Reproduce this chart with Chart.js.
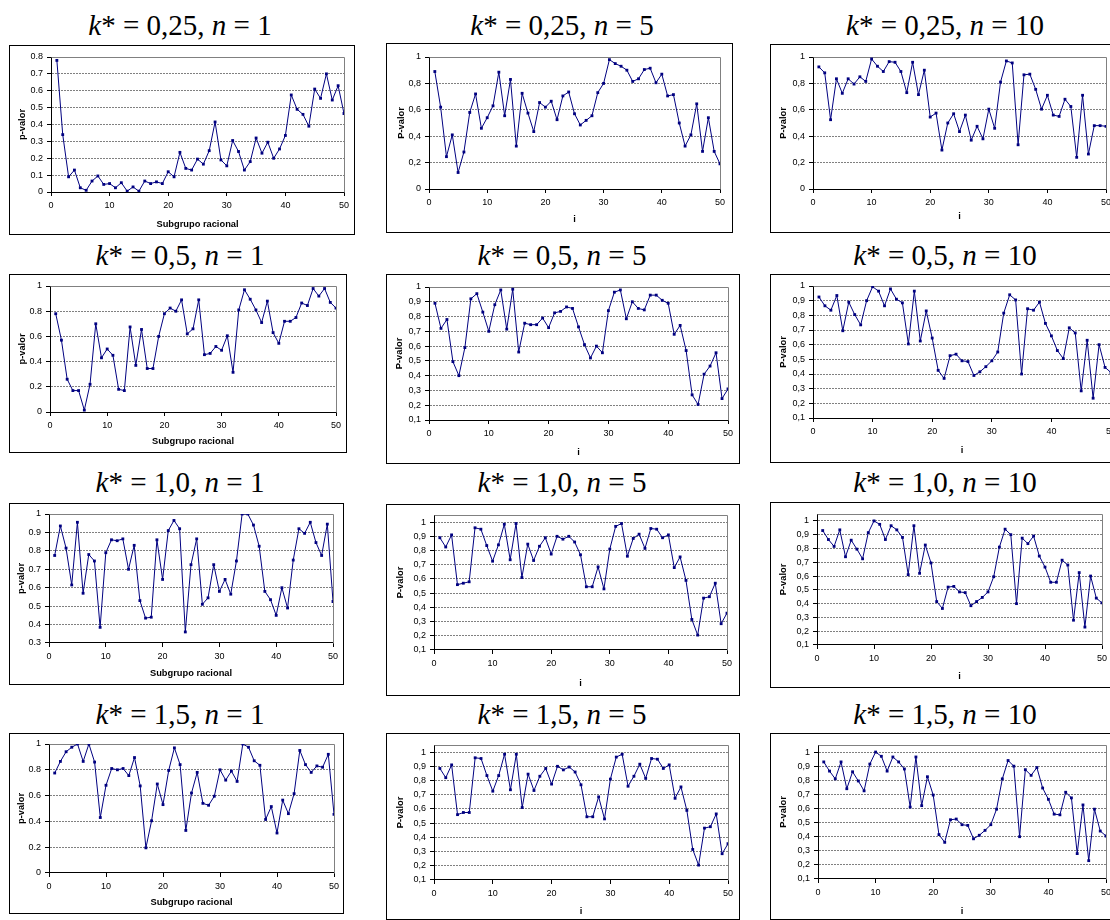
<!DOCTYPE html>
<html>
<head>
<meta charset="utf-8">
<script src="https://cdn.jsdelivr.net/npm/chart.js@4.4.0/dist/chart.umd.min.js"></script>
<style>
  html, body { margin: 0; padding: 0; background: #fff; overflow: hidden; }
  body { width: 1110px; height: 920px; position: relative; }
  .titulo {
    position: absolute; width: 300px; text-align: center; white-space: nowrap;
    font-family: 'Liberation Serif', 'DejaVu Serif', 'Times New Roman', serif;
    font-size: 29px; line-height: 29px; color: #000;
  }
  canvas { position: absolute; }
</style>
</head>
<body>
<script>
// subgrupos racionales (eje x)
const subgrupos = [1, 2, 3, 4, 5, 6, 7, 8, 9, 10, 11, 12, 13, 14, 15, 16, 17, 18, 19, 20,
  21, 22, 23, 24, 25, 26, 27, 28, 29, 30, 31, 32, 33, 34, 35, 36, 37, 38, 39, 40,
  41, 42, 43, 44, 45, 46, 47, 48, 49, 50];

const ticksX = [0, 10, 20, 30, 40, 50];
const ticks0a08 = [0, 0.1, 0.2, 0.3, 0.4, 0.5, 0.6, 0.7, 0.8];
const ticks0a1 = [0, 0.1, 0.2, 0.3, 0.4, 0.5, 0.6, 0.7, 0.8, 0.9, 1];
const ticks01a1 = [0.1, 0.2, 0.3, 0.4, 0.5, 0.6, 0.7, 0.8, 0.9, 1];
const ticks03a1 = [0.3, 0.4, 0.5, 0.6, 0.7, 0.8, 0.9, 1];

// p-valores por k* y n
const pK025n1 = [0.78, 0.34, 0.09, 0.13, 0.025, 0.01, 0.065, 0.095, 0.045, 0.05,
  0.025, 0.055, 0.005, 0.03, 0.005, 0.065, 0.05, 0.06, 0.05, 0.12,
  0.09, 0.235, 0.14, 0.13, 0.195, 0.165, 0.245, 0.415, 0.19, 0.155,
  0.305, 0.24, 0.13, 0.18, 0.32, 0.23, 0.295, 0.2, 0.255, 0.335,
  0.575, 0.49, 0.46, 0.39, 0.61, 0.555, 0.7, 0.545, 0.63, 0.465];
const pK025n5 = [0.89, 0.62, 0.245, 0.41, 0.125, 0.28, 0.58, 0.72, 0.46, 0.54,
  0.63, 0.885, 0.555, 0.83, 0.325, 0.725, 0.575, 0.435, 0.655, 0.62,
  0.665, 0.525, 0.705, 0.735, 0.57, 0.485, 0.52, 0.555, 0.73, 0.8,
  0.98, 0.95, 0.93, 0.9, 0.815, 0.835, 0.905, 0.915, 0.805, 0.87,
  0.705, 0.715, 0.5, 0.325, 0.41, 0.645, 0.285, 0.54, 0.285, 0.19];
const pK025n10 = [0.925, 0.88, 0.525, 0.835, 0.725, 0.835, 0.795, 0.85, 0.815, 0.985,
  0.93, 0.89, 0.965, 0.96, 0.89, 0.73, 0.96, 0.715, 0.9, 0.545,
  0.575, 0.295, 0.5, 0.57, 0.435, 0.56, 0.37, 0.475, 0.38, 0.605,
  0.46, 0.81, 0.97, 0.955, 0.335, 0.865, 0.87, 0.755, 0.605, 0.71,
  0.56, 0.55, 0.68, 0.625, 0.24, 0.71, 0.265, 0.48, 0.48, 0.475];
const pK05n1 = [0.78, 0.57, 0.26, 0.17, 0.17, 0.015, 0.22, 0.7, 0.43, 0.5,
  0.45, 0.18, 0.17, 0.675, 0.37, 0.655, 0.345, 0.345, 0.6, 0.78,
  0.825, 0.8, 0.89, 0.62, 0.66, 0.89, 0.455, 0.465, 0.52, 0.49,
  0.605, 0.315, 0.81, 0.97, 0.895, 0.81, 0.71, 0.88, 0.63, 0.545,
  0.72, 0.72, 0.75, 0.865, 0.845, 0.98, 0.92, 0.98, 0.87, 0.825];
const pK05n5 = [0.89, 0.72, 0.78, 0.495, 0.4, 0.59, 0.92, 0.955, 0.83, 0.7,
  0.88, 0.98, 0.715, 0.985, 0.56, 0.755, 0.745, 0.745, 0.79, 0.725,
  0.825, 0.835, 0.865, 0.855, 0.73, 0.61, 0.52, 0.6, 0.555, 0.84,
  0.965, 0.98, 0.785, 0.9, 0.855, 0.845, 0.945, 0.945, 0.91, 0.89,
  0.68, 0.74, 0.57, 0.27, 0.205, 0.41, 0.465, 0.555, 0.245, 0.31];
const pK05n10 = [0.925, 0.865, 0.835, 0.935, 0.695, 0.89, 0.805, 0.735, 0.9, 0.995,
  0.965, 0.865, 0.98, 0.91, 0.885, 0.605, 0.965, 0.625, 0.83, 0.645,
  0.425, 0.37, 0.525, 0.535, 0.49, 0.485, 0.39, 0.415, 0.45, 0.49,
  0.55, 0.815, 0.94, 0.905, 0.4, 0.845, 0.835, 0.89, 0.745, 0.66,
  0.56, 0.505, 0.715, 0.68, 0.285, 0.63, 0.235, 0.6, 0.445, 0.41];
const pK10n1 = [0.775, 0.935, 0.815, 0.615, 0.955, 0.57, 0.78, 0.745, 0.385, 0.79,
  0.86, 0.855, 0.865, 0.7, 0.83, 0.53, 0.435, 0.44, 0.86, 0.645,
  0.91, 0.965, 0.92, 0.36, 0.725, 0.865, 0.51, 0.545, 0.725, 0.58,
  0.645, 0.565, 0.745, 1.0, 1.0, 0.94, 0.825, 0.58, 0.535, 0.45,
  0.6, 0.49, 0.75, 0.92, 0.895, 0.955, 0.845, 0.775, 0.945, 0.525];
const pK10n5 = [0.89, 0.825, 0.91, 0.56, 0.57, 0.58, 0.96, 0.95, 0.835, 0.725,
  0.84, 0.985, 0.735, 0.99, 0.61, 0.845, 0.73, 0.83, 0.89, 0.775,
  0.9, 0.88, 0.9, 0.86, 0.77, 0.545, 0.545, 0.685, 0.53, 0.81,
  0.97, 0.99, 0.76, 0.885, 0.915, 0.815, 0.955, 0.95, 0.89, 0.91,
  0.68, 0.755, 0.59, 0.315, 0.205, 0.465, 0.475, 0.57, 0.285, 0.36];
const pK10n10 = [0.93, 0.865, 0.815, 0.935, 0.74, 0.86, 0.795, 0.725, 0.915, 1.0,
  0.975, 0.865, 0.965, 0.935, 0.88, 0.61, 0.965, 0.62, 0.825, 0.695,
  0.415, 0.365, 0.52, 0.525, 0.485, 0.48, 0.385, 0.415, 0.445, 0.485,
  0.595, 0.81, 0.94, 0.9, 0.4, 0.875, 0.835, 0.89, 0.745, 0.665,
  0.555, 0.555, 0.715, 0.68, 0.28, 0.625, 0.23, 0.6, 0.44, 0.405];
const pK15n1 = [0.775, 0.865, 0.94, 0.975, 1.0, 0.865, 1.0, 0.86, 0.43, 0.68,
  0.81, 0.8, 0.81, 0.755, 0.895, 0.675, 0.195, 0.405, 0.69, 0.53,
  0.795, 0.97, 0.84, 0.33, 0.62, 0.78, 0.54, 0.525, 0.595, 0.8,
  0.72, 0.79, 0.71, 1.0, 0.975, 0.87, 0.835, 0.415, 0.515, 0.31,
  0.565, 0.46, 0.615, 0.95, 0.84, 0.78, 0.83, 0.82, 0.92, 0.455];
const pK15n5 = [0.885, 0.82, 0.91, 0.56, 0.575, 0.575, 0.96, 0.955, 0.835, 0.725,
  0.835, 0.985, 0.735, 0.985, 0.61, 0.845, 0.73, 0.83, 0.885, 0.775,
  0.9, 0.875, 0.895, 0.86, 0.77, 0.545, 0.545, 0.685, 0.53, 0.81,
  0.965, 0.985, 0.76, 0.83, 0.915, 0.815, 0.955, 0.95, 0.885, 0.91,
  0.675, 0.755, 0.59, 0.315, 0.205, 0.465, 0.475, 0.565, 0.285, 0.355];
const pK15n10 = [0.93, 0.865, 0.81, 0.93, 0.74, 0.86, 0.795, 0.725, 0.915, 1.0,
  0.97, 0.865, 0.965, 0.93, 0.88, 0.61, 0.965, 0.62, 0.825, 0.695,
  0.415, 0.36, 0.52, 0.525, 0.485, 0.48, 0.385, 0.41, 0.445, 0.485,
  0.595, 0.81, 0.94, 0.9, 0.4, 0.875, 0.835, 0.89, 0.745, 0.665,
  0.56, 0.555, 0.715, 0.675, 0.28, 0.625, 0.23, 0.595, 0.44, 0.405];

// columnas: n = 1 (subgrupo racional), n = 5, n = 10 (i)
const colX = [180, 562, 945];
const filaY = [35, 265, 492, 724];

// caja: [x, y, ancho, alto]; area: [izq, arriba, der, abajo] en la pagina
const paneles = [
  { fila: 0, col: 0, k: '0,25', n: '1', datos: pK025n1, caja: [9, 45, 346, 190], area: [51, 57, 344, 192], yTit: 22, xTit: 224, yMin: 0, yMax: 0.8, yTicks: ticks0a08 },
  { fila: 0, col: 1, k: '0,25', n: '5', datos: pK025n5, caja: [386, 43, 347, 190], area: [429, 57, 720, 189], yTit: 401, xTit: 219, yMin: 0, yMax: 1, yTicks: ticks0a1 },
  { fila: 0, col: 2, k: '0,25', n: '10', datos: pK025n10, caja: [770, 44, 360, 189], area: [813, 57, 1106, 189], yTit: 783, xTit: 216, yMin: 0, yMax: 1, yTicks: ticks0a1 },
  { fila: 1, col: 0, k: '0,5', n: '1', datos: pK05n1, caja: [9, 274, 338, 179], area: [50, 286, 336, 412], yTit: 22, xTit: 441, yMin: 0, yMax: 1, yTicks: ticks0a1 },
  { fila: 1, col: 1, k: '0,5', n: '5', datos: pK05n5, caja: [386, 274, 354, 190], area: [429, 287, 728, 420], yTit: 399, xTit: 452, yMin: 0.1, yMax: 1, yTicks: ticks01a1 },
  { fila: 1, col: 2, k: '0,5', n: '10', datos: pK05n10, caja: [770, 274, 360, 189], area: [813, 286, 1111, 418], yTit: 783, xTit: 450, yMin: 0.1, yMax: 1, yTicks: ticks01a1 },
  { fila: 2, col: 0, k: '1,0', n: '1', datos: pK10n1, caja: [9, 503, 335, 182], area: [49, 514, 333, 643], yTit: 21, xTit: 673, yMin: 0.3, yMax: 1, yTicks: ticks03a1 },
  { fila: 2, col: 1, k: '1,0', n: '5', datos: pK10n5, caja: [386, 504, 354, 192], area: [434, 515, 727, 650], yTit: 400, xTit: 683, yMin: 0.1, yMax: 1.05, yTicks: ticks01a1 },
  { fila: 2, col: 2, k: '1,0', n: '10', datos: pK10n10, caja: [770, 502, 360, 186], area: [817, 514, 1102, 645], yTit: 783, xTit: 676, yMin: 0.1, yMax: 1.05, yTicks: ticks01a1 },
  { fila: 3, col: 0, k: '1,5', n: '1', datos: pK15n1, caja: [9, 733, 335, 181], area: [49, 744, 334, 873], yTit: 21, xTit: 902, yMin: 0, yMax: 1, yTicks: ticks0a1 },
  { fila: 3, col: 1, k: '1,5', n: '5', datos: pK15n5, caja: [386, 733, 354, 187], area: [434, 745, 728, 880], yTit: 400, xTit: 911, yMin: 0.1, yMax: 1.05, yTicks: ticks01a1 },
  { fila: 3, col: 2, k: '1,5', n: '10', datos: pK15n10, caja: [770, 733, 360, 187], area: [818, 745, 1106, 879], yTit: 783, xTit: 911, yMin: 0.1, yMax: 1.05, yTicks: ticks01a1 }
];

Chart.defaults.font.family = '"Liberation Sans", Arial, sans-serif';
Chart.defaults.color = '#000';

const TITULO_LH = 9.3 * 1.2;

// borde del grafico y contorno gris del area de trazado
const marco = {
  id: 'marco',
  beforeDatasetsDraw(chart) {
    const { ctx, chartArea: a } = chart;
    const l = Math.round(a.left) + 0.5, t = Math.round(a.top) + 0.5;
    const r = Math.round(a.right) + 0.5, b = Math.round(a.bottom) + 0.5;
    ctx.save();
    ctx.strokeStyle = '#808080';
    ctx.lineWidth = 1;
    ctx.beginPath();
    ctx.moveTo(l, t);
    ctx.lineTo(r, t);
    ctx.lineTo(r, b);
    ctx.stroke();
    ctx.restore();
  },
  afterDraw(chart) {
    const { ctx, width, height } = chart;
    ctx.save();
    ctx.strokeStyle = '#000';
    ctx.lineWidth = 1;
    ctx.strokeRect(0.5, 0.5, width - 1, height - 1);
    ctx.restore();
  }
};

function formato(v, sep) {
  const s = String(Math.round(v * 10) / 10);
  return sep === ',' ? s.replace('.', ',') : s;
}

paneles.forEach(p => {
  const [bx, by, bw, bh] = p.caja;
  const [al, at, ar, ab] = p.area;
  const primeraCol = p.col === 0;
  const sep = primeraCol ? '.' : ',';

  const tit = document.createElement('div');
  tit.className = 'titulo';
  tit.style.left = (colX[p.col] - 150) + 'px';
  tit.style.top = (filaY[p.fila] - 24.3) + 'px';
  tit.innerHTML = '<i>k</i>* = ' + p.k + ', <i>n</i> = ' + p.n;
  document.body.appendChild(tit);

  const canvas = document.createElement('canvas');
  canvas.width = bw;
  canvas.height = bh;
  canvas.style.left = bx + 'px';
  canvas.style.top = by + 'px';
  document.body.appendChild(canvas);

  const padL = p.yTit - bx - TITULO_LH / 2;
  const padB = (by + bh) - p.xTit - TITULO_LH / 2;
  const anchoY = al - bx - padL;
  const altoX = p.xTit + TITULO_LH / 2 - ab;

  new Chart(canvas, {
    type: 'line',
    data: {
      labels: subgrupos,
      datasets: [{
        data: p.datos,
        borderColor: '#000080',
        backgroundColor: '#000080',
        borderWidth: 1,
        pointStyle: 'rect',
        pointRadius: 2,
        pointBorderWidth: 0,
        tension: 0
      }]
    },
    options: {
      responsive: false,
      animation: false,
      layout: { padding: { left: padL, right: bx + bw - ar, top: at - by, bottom: padB } },
      plugins: { legend: { display: false }, tooltip: { enabled: false } },
      scales: {
        x: {
          type: 'linear',
          min: 0,
          max: 50,
          afterBuildTicks: s => { s.ticks = ticksX.map(v => ({ value: v })); },
          afterFit: s => { s.height = altoX; },
          grid: { drawOnChartArea: false, tickLength: 4, tickColor: '#000' },
          border: { color: '#000' },
          ticks: { padding: 4, maxRotation: 0, autoSkip: false, font: { size: 9 } },
          title: { display: true, text: primeraCol ? 'Subgrupo racional' : 'i', padding: 0, font: { size: 9.3, weight: 'bold' } }
        },
        y: {
          min: p.yMin,
          max: p.yMax,
          afterBuildTicks: s => { s.ticks = p.yTicks.map(v => ({ value: v })); },
          afterFit: s => { s.width = anchoY; },
          grid: {
            color: c => (c.tick && c.tick.value === p.yMin) ? 'rgba(0,0,0,0)' : '#808080',
            tickLength: 4,
            tickColor: '#000'
          },
          border: { color: '#000', dash: [2, 1] },
          ticks: { padding: 4, font: { size: 9 }, callback: v => formato(v, sep) },
          title: { display: true, text: primeraCol ? 'p-valor' : 'P-valor', padding: 0, font: { size: 9.3, weight: 'bold' } }
        }
      }
    },
    plugins: [marco]
  });
});
</script>
</body>
</html>
